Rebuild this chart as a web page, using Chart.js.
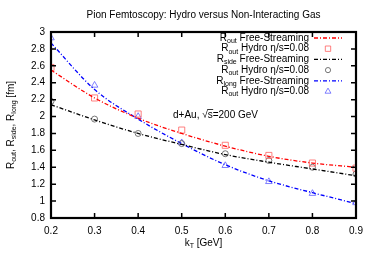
<!DOCTYPE html>
<html>
<head>
<meta charset="utf-8">
<script src="https://cdn.jsdelivr.net/npm/chart.js@4.4.0/dist/chart.umd.min.js"></script>
<style>
  html, body { margin: 0; padding: 0; background: #fff; }
</style>
</head>
<body>
<canvas id="c" width="374" height="262"></canvas>
<script>
// valores (kT em GeV, raios em fm)
var kT = [0.2, 0.3, 0.4, 0.5, 0.6, 0.7, 0.8, 0.9];
var freeOut = [2.55, 2.22, 1.98, 1.80, 1.65, 1.53, 1.45, 1.40];
var hydroOut = [2.58, 2.22, 2.03, 1.84, 1.66, 1.54, 1.45, 1.39];
var freeSide = [2.14, 1.96, 1.80, 1.67, 1.55, 1.46, 1.38, 1.30];
var hydroSide = [2.18, 1.97, 1.80, 1.68, 1.56, 1.48, 1.40, 1.32];
var freeLong = [2.87, 2.32, 1.97, 1.68, 1.43, 1.24, 1.10, 0.97];
var hydroLong = [2.93, 2.37, 2.00, 1.69, 1.42, 1.23, 1.09, 0.98];

var FONT = "'Liberation Sans', Arial, sans-serif";
var DASH = [4, 2, 1, 2];

function pts(ys) {
  return kT.map(function (x, i) { return { x: x, y: ys[i] }; });
}
function fmt(v) { return String(+Number(v).toFixed(1)); }

function lineSet(label, ys, color) {
  return {
    label: label, data: pts(ys), showLine: true,
    borderColor: color, borderWidth: 1.3, borderDash: DASH,
    pointRadius: 0, cubicInterpolationMode: "monotone", fill: false,
  };
}
function markSet(label, ys, color, style, r) {
  return {
    label: label, data: pts(ys), showLine: false,
    pointStyle: style, pointRadius: r, borderWidth: 0.8,
    borderColor: color, backgroundColor: "rgba(0,0,0,0)",
  };
}

// texto com subscritos: partes [{t:"R"}, {t:"out", sub:true}, ...]
function richWidth(ctx, parts) {
  var w = 0;
  parts.forEach(function (p) {
    ctx.font = (p.sub ? "7px " : "10px ") + FONT;
    w += ctx.measureText(p.t).width;
  });
  return w;
}
function drawRich(ctx, parts, x, y, align) {
  var w = richWidth(ctx, parts);
  var cx = align === "right" ? x - w : align === "center" ? x - w / 2 : x;
  ctx.textBaseline = "middle";
  ctx.textAlign = "left";
  parts.forEach(function (p) {
    ctx.font = (p.sub ? "7px " : "10px ") + FONT;
    ctx.fillText(p.t, cx, p.sub ? y + 3 : y);
    cx += ctx.measureText(p.t).width;
  });
}

var RED_M = "#ff6060", BLACK_M = "#555555", BLUE_M = "#6060ff";

var legendRows = [
  { parts: [{ t: "R" }, { t: "out", sub: true }, { t: " Free-Streaming" }], color: "#ff0000", line: true },
  { parts: [{ t: "R" }, { t: "out", sub: true }, { t: " Hydro \u03b7/s=0.08" }], color: RED_M, mark: "rect", r: 3.8 },
  { parts: [{ t: "R" }, { t: "side", sub: true }, { t: " Free-Streaming" }], color: "#000000", line: true },
  { parts: [{ t: "R" }, { t: "out", sub: true }, { t: " Hydro \u03b7/s=0.08" }], color: BLACK_M, mark: "circle", r: 2.6 },
  { parts: [{ t: "R" }, { t: "long", sub: true }, { t: " Free-Streaming" }], color: "#0000ff", line: true },
  { parts: [{ t: "R" }, { t: "out", sub: true }, { t: " Hydro \u03b7/s=0.08" }], color: BLUE_M, mark: "triangle", r: 3.4 },
];

var decor = {
  id: "decor",
  afterDraw: function (chart) {
    var ctx = chart.ctx, a = chart.chartArea;
    var xs = chart.scales.x, ys = chart.scales.y;
    ctx.save();
    ctx.fillStyle = "#000";

    // título
    ctx.font = "10px " + FONT;
    ctx.textAlign = "center";
    ctx.textBaseline = "middle";
    ctx.fillText("Pion Femtoscopy: Hydro versus Non-Interacting Gas", (a.left + a.right) / 2, 15);

    // moldura e ticks para dentro (estilo gnuplot)
    ctx.strokeStyle = "#000";
    ctx.lineWidth = 1.5;
    ctx.beginPath();
    xs.ticks.forEach(function (t) {
      var px = xs.getPixelForValue(t.value);
      ctx.moveTo(px, a.bottom); ctx.lineTo(px, a.bottom - 5);
      ctx.moveTo(px, a.top); ctx.lineTo(px, a.top + 5);
    });
    ys.ticks.forEach(function (t) {
      var py = ys.getPixelForValue(t.value);
      ctx.moveTo(a.left, py); ctx.lineTo(a.left + 5, py);
      ctx.moveTo(a.right, py); ctx.lineTo(a.right - 5, py);
    });
    ctx.stroke();
    ctx.lineWidth = 2.2;
    ctx.strokeRect(a.left, a.top, a.right - a.left, a.bottom - a.top);

    // títulos dos eixos
    drawRich(ctx, [{ t: "k" }, { t: "T", sub: true }, { t: " [GeV]" }], (a.left + a.right) / 2, 243, "center");
    ctx.save();
    ctx.translate(11, (a.top + a.bottom) / 2);
    ctx.rotate(-Math.PI / 2);
    drawRich(ctx, [{ t: "R" }, { t: "out", sub: true }, { t: ", R" }, { t: "side", sub: true },
      { t: ", R" }, { t: "long", sub: true }, { t: " [fm]" }], 0, 0, "center");
    ctx.restore();

    // anotação d+Au
    ctx.font = "10px " + FONT;
    ctx.textAlign = "left";
    ctx.textBaseline = "middle";
    var ax = 173, ay = 115;
    var s1 = "d+Au, \u221a";
    ctx.fillText(s1, ax, ay);
    var w1 = ctx.measureText(s1).width;
    ctx.fillText("s=200 GeV", ax + w1, ay);
    var ws = ctx.measureText("s").width;
    ctx.lineWidth = 0.8;
    ctx.beginPath();
    ctx.moveTo(ax + w1 - 0.5, ay - 5.5); ctx.lineTo(ax + w1 + ws + 0.5, ay - 5.5);
    ctx.stroke();

    // legenda
    legendRows.forEach(function (r, i) {
      var y = 38 + i * 10.7;
      ctx.fillStyle = "#000";
      drawRich(ctx, r.parts, 309, y, "right");
      ctx.strokeStyle = r.color;
      if (r.line) {
        ctx.lineWidth = 1.3;
        ctx.setLineDash(DASH);
        ctx.beginPath();
        ctx.moveTo(314, y); ctx.lineTo(342, y);
        ctx.stroke();
        ctx.setLineDash([]);
      } else {
        ctx.fillStyle = "rgba(0,0,0,0)";
        ctx.lineWidth = 0.8;
        Chart.helpers.drawPoint(ctx, { pointStyle: r.mark, radius: r.r, borderWidth: 0.8 }, 328, y);
      }
    });
    ctx.restore();
  },
};

new Chart(document.getElementById("c"), {
  type: "scatter",
  data: {
    datasets: [
      lineSet("Rout Free-Streaming", freeOut, "#ff0000"),
      markSet("Rout Hydro", hydroOut, RED_M, "rect", 4.3),
      lineSet("Rside Free-Streaming", freeSide, "#000000"),
      markSet("Rside Hydro", hydroSide, BLACK_M, "circle", 3),
      lineSet("Rlong Free-Streaming", freeLong, "#0000ff"),
      markSet("Rlong Hydro", hydroLong, BLUE_M, "triangle", 3.8),
    ],
  },
  options: {
    responsive: false,
    animation: false,
    layout: { padding: { top: 32, right: 18, left: 0, bottom: 0 } },
    plugins: { legend: { display: false }, tooltip: { enabled: false }, title: { display: false } },
    scales: {
      x: {
        type: "linear", min: 0.2, max: 0.9,
        grid: { display: false, drawTicks: false },
        border: { display: false },
        afterFit: function (s) { s.height = 44; },
        ticks: { stepSize: 0.1, padding: 7, color: "#000", font: { family: FONT, size: 10 },
          maxRotation: 0, callback: fmt },
      },
      y: {
        type: "linear", min: 0.8, max: 3,
        grid: { display: false, drawTicks: false },
        border: { display: false },
        afterFit: function (s) { s.width = 51; },
        ticks: { stepSize: 0.2, padding: 6, color: "#000", font: { family: FONT, size: 10 }, callback: fmt },
      },
    },
  },
  plugins: [decor],
});
</script>
</body>
</html>
